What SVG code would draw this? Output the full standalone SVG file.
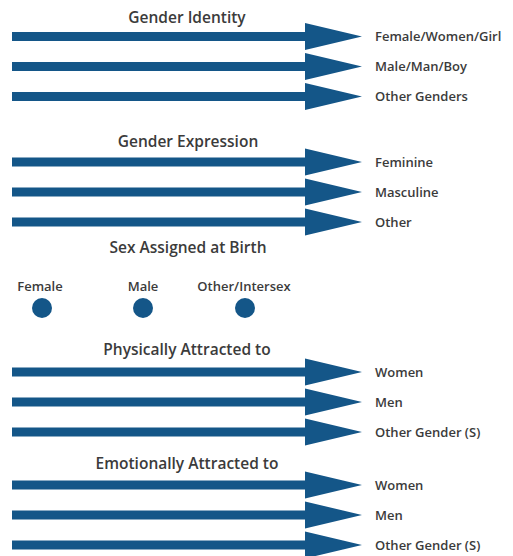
<svg xmlns="http://www.w3.org/2000/svg" xmlns:xlink="http://www.w3.org/1999/xlink" width="513" height="556" viewBox="0 0 513 556">
<style>
.title{font-family:"Open Sans","Liberation Sans",sans-serif;font-size:15.5px;font-weight:600;fill:#3b3b3b;text-anchor:middle}
.lbl{font-family:"Open Sans","Liberation Sans",sans-serif;font-size:13px;font-weight:600;fill:#3b3b3b}
.sex{font-family:"Open Sans","Liberation Sans",sans-serif;font-size:13px;font-weight:600;fill:#3b3b3b;text-anchor:middle}
.arrow{fill:#145688}
.dot{fill:#145688}
</style>
<defs>
<path id="arr" class="arrow" d="M12,-4.5 H305 V-13.5 L362,0 L305,13.5 V4.5 H12 Z"/>
</defs>
<rect width="513" height="556" fill="#ffffff"/>
<g id="connectors">
<use xlink:href="#arr" href="#arr" transform="translate(0,36.5)"/>
<use xlink:href="#arr" href="#arr" transform="translate(0,66.5)"/>
<use xlink:href="#arr" href="#arr" transform="translate(0,96.5)"/>
<use xlink:href="#arr" href="#arr" transform="translate(0,162)"/>
<use xlink:href="#arr" href="#arr" transform="translate(0,192)"/>
<use xlink:href="#arr" href="#arr" transform="translate(0,222)"/>
<use xlink:href="#arr" href="#arr" transform="translate(0,372)"/>
<use xlink:href="#arr" href="#arr" transform="translate(0,402)"/>
<use xlink:href="#arr" href="#arr" transform="translate(0,432)"/>
<use xlink:href="#arr" href="#arr" transform="translate(0,485)"/>
<use xlink:href="#arr" href="#arr" transform="translate(0,515)"/>
<use xlink:href="#arr" href="#arr" transform="translate(0,545)"/>
</g>
<g id="gender-identity">
<text class="title" x="187" y="23">Gender Identity</text>
<text class="lbl" x="375" y="41">Female/Women/Girl</text>
<text class="lbl" x="375" y="71">Male/Man/Boy</text>
<text class="lbl" x="375" y="101">Other Genders</text>
</g>
<g id="gender-expression">
<text class="title" x="188" y="147">Gender Expression</text>
<text class="lbl" x="375" y="166.5">Feminine</text>
<text class="lbl" x="375" y="196.5">Masculine</text>
<text class="lbl" x="375" y="226.5">Other</text>
</g>
<g id="sex-assigned">
<text class="title" x="188" y="253">Sex Assigned at Birth</text>
<g id="sex-female">
<text class="sex" x="40" y="291">Female</text>
<circle class="dot" cx="42" cy="308" r="10"/>
</g>
<g id="sex-male">
<text class="sex" x="143" y="291">Male</text>
<circle class="dot" cx="143" cy="308" r="10"/>
</g>
<g id="sex-other">
<text class="sex" x="244" y="291">Other/Intersex</text>
<circle class="dot" cx="245" cy="308" r="10"/>
</g>
</g>
<g id="physically-attracted">
<text class="title" x="187" y="355">Physically Attracted to</text>
<text class="lbl" x="375" y="377">Women</text>
<text class="lbl" x="375" y="407">Men</text>
<text class="lbl" x="375" y="437">Other Gender (S)</text>
</g>
<g id="emotionally-attracted">
<text class="title" x="187" y="469">Emotionally Attracted to</text>
<text class="lbl" x="375" y="490">Women</text>
<text class="lbl" x="375" y="520">Men</text>
<text class="lbl" x="375" y="550">Other Gender (S)</text>
</g>
</svg>
